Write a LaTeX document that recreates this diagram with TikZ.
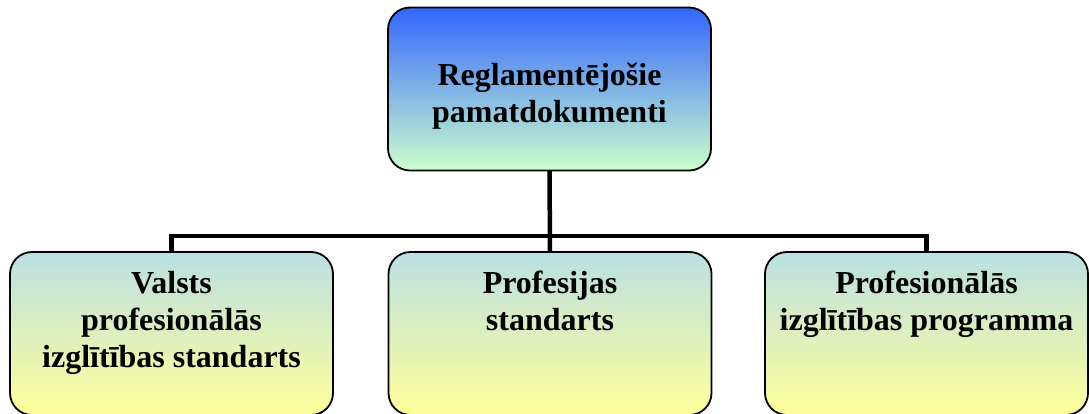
\documentclass[tikz,border=0pt]{standalone}
\usepackage{fontspec}
\setmainfont{Liberation Serif}
\definecolor{topblue}{RGB}{51,102,255}
\definecolor{topgreen}{RGB}{204,255,204}
\definecolor{boxcyan}{RGB}{187,224,227}
\definecolor{boxyellow}{RGB}{255,255,153}
\begin{document}
\begin{tikzpicture}[x=1pt,y=-1pt,
  boxbase/.style={draw=black, line width=1.8pt, rounded corners=22pt,
    minimum width=323pt, minimum height=163pt, inner sep=0pt, outer sep=0pt},
  topbox/.style={boxbase, top color=topblue, bottom color=topgreen},
  lowbox/.style={boxbase, top color=boxcyan, bottom color=boxyellow},
  lbl/.style={font=\fontsize{32pt}{37pt}\selectfont\bfseries, align=center,
    inner sep=0pt, anchor=north},
  conn/.style={line width=4.5pt, draw=black}]
\useasboundingbox (0,0) rectangle (1089,414);
\node[topbox] (top) at (549.5,89) {};
\node[lowbox] (left) at (171.5,333.5) {};
\node[lowbox] (mid) at (550,333.5) {};
\node[lowbox] (right) at (926.5,333.5) {};
\node[lbl] (toptext) at (549.5,63) {Reglamentējošie\\pamatdokumenti};
\node[lbl] (lefttext) at (171.5,271) {Valsts\\profesionālās\\izglītības standarts};
\node[lbl] (midtext) at (550,271) {Profesijas\\standarts};
\node[lbl] (righttext) at (926.5,271) {Profesionālās\\izglītības programma};
\coordinate (bus) at (550,236);
\draw[conn] (top.south) -- (mid.north);
\draw[conn] (left.north) |- (bus) -| (right.north);
\end{tikzpicture}
\end{document}
